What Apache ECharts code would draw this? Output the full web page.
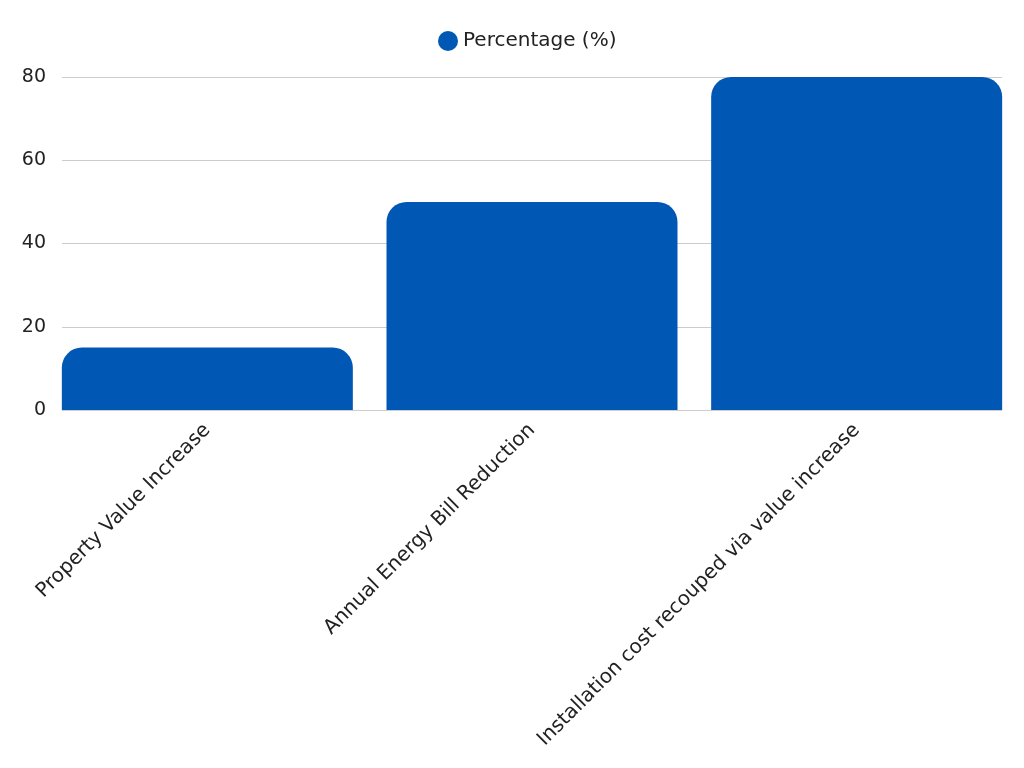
<!DOCTYPE html>
<html>
<head>
<meta charset="utf-8">
<script src="https://cdn.jsdelivr.net/npm/echarts@6/dist/echarts.min.js"></script>
<style>
  html, body { margin: 0; padding: 0; background: #fff; }
  #chart { width: 1024px; height: 768px; }
</style>
</head>
<body>
<div id="chart"></div>
<script>
const categories = [
  'Property Value Increase',
  'Annual Energy Bill Reduction',
  'Installation cost recouped via value increase'
];
const percentages = [15, 50, 80];
const seriesName = 'Percentage (%)';
const yTicks = { min: 0, max: 80, interval: 20 };

const chart = echarts.init(document.getElementById('chart'));
const font = 'DejaVu Sans';

// grid 0 draws the value axis + gridlines, grid 1 holds the bars (they run wider than the gridlines)
const option = {
  textStyle: { fontFamily: font },
  legend: {
    top: 26,
    left: 433,
    icon: 'circle',
    itemWidth: 20,
    itemHeight: 20,
    itemGap: 8,
    textStyle: { fontSize: 20, color: '#222', fontFamily: font }
  },
  grid: [
    { top: 77, left: 62, right: 22, bottom: 358 },
    { top: 77, left: 45, right: 5, bottom: 358 }
  ],
  xAxis: [
    {
      type: 'category',
      gridIndex: 0,
      data: categories,
      show: false
    },
    {
      type: 'category',
      gridIndex: 1,
      data: categories,
      axisTick: { show: false },
      axisLine: { show: false },
      axisLabel: {
        rotate: 45,
        interval: 0,
        fontSize: 20,
        color: '#222',
        margin: 17,
        fontFamily: font
      }
    }
  ],
  yAxis: [
    {
      type: 'value',
      gridIndex: 0,
      min: yTicks.min,
      max: yTicks.max,
      interval: yTicks.interval,
      axisLine: { show: false },
      axisTick: { show: false },
      axisLabel: { fontSize: 19, color: '#222', margin: 16, fontFamily: font },
      splitLine: { lineStyle: { color: '#cccccc', width: 1 } }
    },
    {
      type: 'value',
      gridIndex: 1,
      min: yTicks.min,
      max: yTicks.max,
      interval: yTicks.interval,
      show: false,
      splitLine: { show: false }
    }
  ],
  series: [
    {
      name: seriesName,
      type: 'bar',
      xAxisIndex: 1,
      yAxisIndex: 1,
      data: percentages,
      barWidth: 291,
      itemStyle: {
        color: '#0057b4',
        borderRadius: [20, 20, 0, 0]
      }
    }
  ]
};

chart.setOption(option);
</script>
</body>
</html>
